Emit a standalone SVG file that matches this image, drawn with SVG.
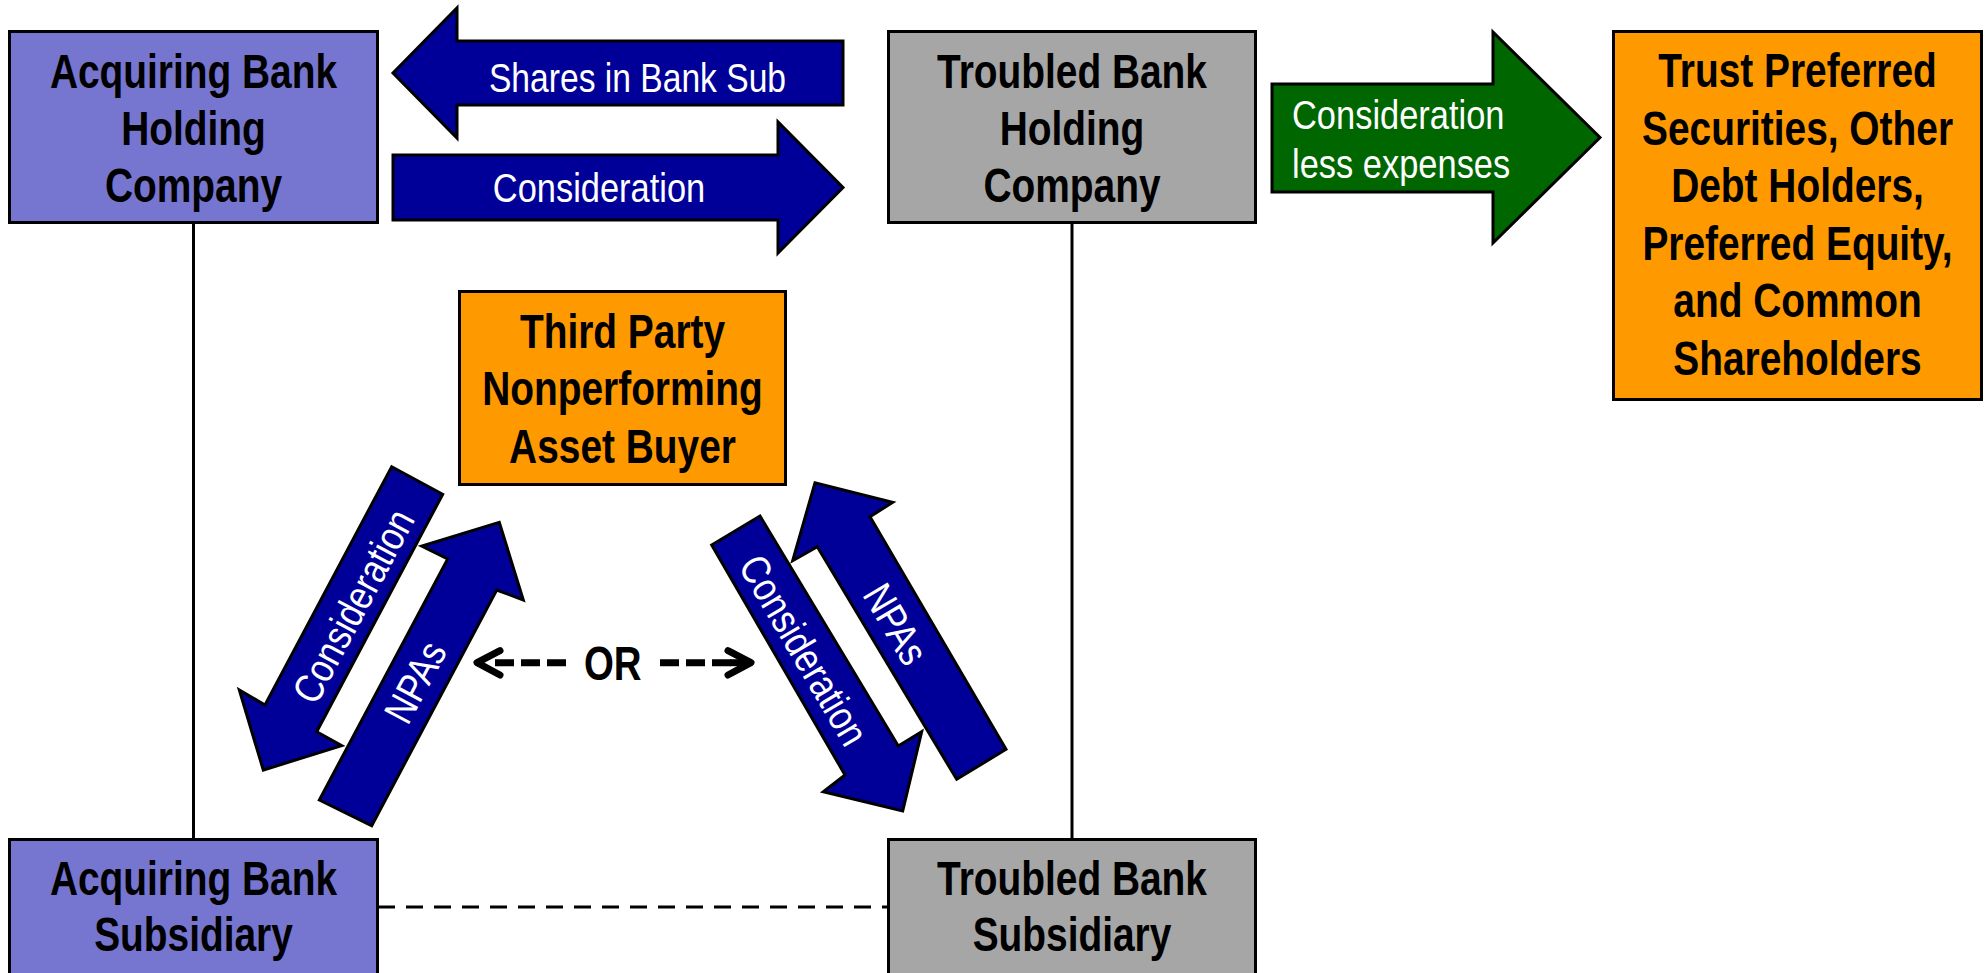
<svg xmlns="http://www.w3.org/2000/svg" width="1985" height="973" viewBox="0 0 1985 973">
<style>
  .box { stroke: #000; stroke-width: 3; }
  .acq { fill: #7676D0; }
  .trb { fill: #A6A6A6; }
  .org { fill: #FF9900; }
  .arrow { fill: #000099; stroke: #000; stroke-width: 3; stroke-linejoin: miter; }
  .garrow { fill: #006600; stroke: #000; stroke-width: 3; stroke-linejoin: miter; }
  .lbl { font-family: "Liberation Sans", Arial, sans-serif; font-weight: bold; font-size: 48px; fill: #000; text-anchor: middle; }
  .wtn { font-family: "Liberation Sans", Arial, sans-serif; font-size: 41px; fill: #fff; text-anchor: middle; }
  .line { stroke: #000; stroke-width: 3; fill: none; }
</style>
<rect width="1985" height="973" fill="#fff"/>

<g id="connectors">
  <line class="line" x1="193.5" y1="223" x2="193.5" y2="839"/>
  <line class="line" x1="1072" y1="223" x2="1072" y2="839"/>
  <line class="line" x1="378" y1="907" x2="888" y2="907" stroke-dasharray="17 11"/>
  <g id="or-arrows" stroke="#000" stroke-width="7" fill="none">
    <polyline points="500,650.7 477,662.7 500,675" stroke-linecap="round" stroke-linejoin="round"/>
    <line x1="495" y1="662.7" x2="567" y2="662.7" stroke-dasharray="19 7"/>
    <line x1="660" y1="662.7" x2="732" y2="662.7" stroke-dasharray="19 7"/>
    <line x1="730" y1="662.7" x2="750" y2="662.7"/>
    <polyline points="728,650.7 751,662.7 728,675" stroke-linecap="round" stroke-linejoin="round"/>
  </g>
  <text class="lbl" font-size="46" transform="translate(612.8,680) scale(0.8,1)" x="0" y="0">OR</text>
</g>

<g id="arrow-shares">
  <path class="arrow" d="M843,41 L457,41 L457,8 L393,73 L457,138 L457,105 L843,105 Z"/>
  <text class="wtn" font-size="42" transform="translate(637.5,91.7) scale(0.82,1)" x="0" y="0">Shares in Bank Sub</text>
</g>
<g id="arrow-consideration-top">
  <path class="arrow" d="M393,155 L778,155 L778,122 L843,187.5 L778,253 L778,220 L393,220 Z"/>
  <text class="wtn" transform="translate(599,202.3) scale(0.84,1)" x="0" y="0">Consideration</text>
</g>
<g id="arrow-green">
  <path class="garrow" d="M1272,84 L1493,84 L1493,32 L1600,137.5 L1493,243 L1493,192 L1272,192 Z"/>
  <text class="wtn" style="text-anchor:start" transform="translate(1292,129) scale(0.84,1)"><tspan x="0" y="0">Consideration</tspan><tspan x="0" y="49">less expenses</tspan></text>
</g>

<g id="arrow-left-consideration">
  <path class="arrow" d="M391.7,466.7 L442.7,494.3 L316.7,731.7 L341.7,745.7 L263.3,770 L239.3,690 L265,705 Z"/>
  <text class="wtn" transform="translate(353,606) rotate(-62) scale(0.84,1)" y="14.5">Consideration</text>
</g>
<g id="arrow-left-npas">
  <path class="arrow" d="M319.3,800 L371.7,825.7 L496.7,590 L523.3,600 L499.3,522.3 L421.7,546 L447.7,559 Z"/>
  <text class="wtn" transform="translate(415,682) rotate(-62) scale(0.84,1)" y="14.5">NPAs</text>
</g>
<g id="arrow-right-consideration">
  <path class="arrow" d="M711.7,545 L760,516 L898.3,746 L921.7,731.7 L902.7,811 L823.3,791.7 L845,775 Z"/>
  <text class="wtn" transform="translate(804,650) rotate(59.5) scale(0.84,1)" y="14.5">Consideration</text>
</g>
<g id="arrow-right-npas">
  <path class="arrow" d="M956.7,779.3 L1006,749.3 L870,516.7 L892.7,502.3 L815,482.7 L792.7,560.7 L817.3,546.7 Z"/>
  <text class="wtn" transform="translate(896,624) rotate(59.5) scale(0.84,1)" y="14.5">NPAs</text>
</g>

<g id="acquiring-hc">
  <rect class="box acq" x="9.5" y="31.5" width="368" height="191"/>
  <text class="lbl" transform="translate(193.5,88) scale(0.81,1)"><tspan x="0" y="0">Acquiring Bank</tspan><tspan x="0" y="57">Holding</tspan><tspan x="0" y="114">Company</tspan></text>
</g>
<g id="troubled-hc">
  <rect class="box trb" x="888.5" y="31.5" width="367" height="191"/>
  <text class="lbl" transform="translate(1072,88) scale(0.81,1)"><tspan x="0" y="0">Troubled Bank</tspan><tspan x="0" y="57">Holding</tspan><tspan x="0" y="114">Company</tspan></text>
</g>
<g id="trust-preferred">
  <rect class="box org" x="1613.5" y="31.5" width="368" height="368"/>
  <text class="lbl" transform="translate(1797.5,87) scale(0.81,1)"><tspan x="0" y="0">Trust Preferred</tspan><tspan x="0" y="57.6">Securities, Other</tspan><tspan x="0" y="115.2">Debt Holders,</tspan><tspan x="0" y="172.8">Preferred Equity,</tspan><tspan x="0" y="230.4">and Common</tspan><tspan x="0" y="288">Shareholders</tspan></text>
</g>
<g id="third-party">
  <rect class="box org" x="459.5" y="291.5" width="326" height="193"/>
  <text class="lbl" transform="translate(622.5,348) scale(0.81,1)"><tspan x="0" y="0">Third Party</tspan><tspan x="0" y="57.5">Nonperforming</tspan><tspan x="0" y="115">Asset Buyer</tspan></text>
</g>
<g id="acquiring-sub">
  <rect class="box acq" x="9.5" y="839.5" width="368" height="200"/>
  <text class="lbl" transform="translate(193.5,895) scale(0.81,1)"><tspan x="0" y="0">Acquiring Bank</tspan><tspan x="0" y="56">Subsidiary</tspan></text>
</g>
<g id="troubled-sub">
  <rect class="box trb" x="888.5" y="839.5" width="367" height="200"/>
  <text class="lbl" transform="translate(1072,895) scale(0.81,1)"><tspan x="0" y="0">Troubled Bank</tspan><tspan x="0" y="56">Subsidiary</tspan></text>
</g>
</svg>
